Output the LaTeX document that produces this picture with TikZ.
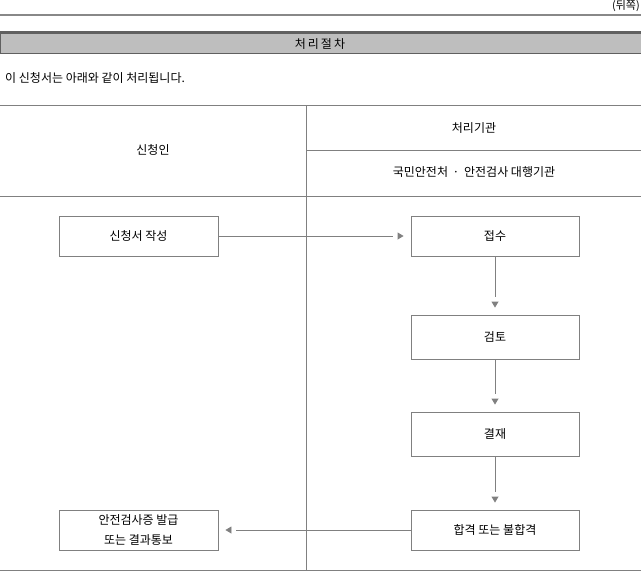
\documentclass[tikz,border=0pt]{standalone}
\usepackage{fontspec}
\setmainfont{Noto Sans CJK KR}
\usetikzlibrary{arrows.meta,decorations.markings}
\definecolor{rulegray}{HTML}{888888}
\definecolor{darkrule}{HTML}{606060}
\definecolor{bandfill}{HTML}{BEBEBE}
\definecolor{linegray}{HTML}{808080}
\begin{document}
\begin{tikzpicture}[x=1pt,y=-1pt,
  txt/.style={font=\fontsize{12}{14}\selectfont, inner sep=0pt},
  stepbox/.style={draw=linegray, line width=0.9pt, fill=white, minimum width=159pt, minimum height=40pt, align=center, inner sep=0pt, font=\fontsize{12}{20}\selectfont},
  rbox/.style={stepbox, minimum width=168pt},
  tall/.style={minimum height=44pt},
  conn/.style={draw=linegray, line width=0.9pt, shorten >=18pt,
    postaction={decorate, decoration={markings,
      mark=at position -7pt with {\arrow[linegray, line width=0.9pt]{Triangle[length=6pt,width=7pt]}}}}},
  grid/.style={draw=linegray, line width=0.9pt}
]
\useasboundingbox (0,0) rectangle (641,571);
\fill[white] (0,0) rectangle (641,571);
% header
\node[txt, anchor=east, font=\fontsize{11}{12}\selectfont] (back) at (640,6) {(뒤쪽)};
\draw[rulegray, line width=2.4pt] (0,15) -- (641,15);
\draw[darkrule, line width=2.4pt] (0,32.5) -- (641,32.5);
\fill[bandfill] (0,34) rectangle (641,53);
\draw[darkrule, line width=1pt] (0.5,34) -- (0.5,53.5);
\draw[darkrule, line width=1.2pt] (0,53.5) -- (641,53.5);
\node[txt] (title) at (320,44) {처\,리\,절\,차};
\node[txt, anchor=west] (intro) at (5,78) {이 신청서는 아래와 같이 처리됩니다.};
% table
\draw[grid] (0,105) -- (641,105);
\draw[grid] (306,150) -- (641,150);
\draw[grid] (0,196.5) -- (641,196.5);
\draw[grid] (0,570) -- (641,570);
\draw[grid] (306,105) -- (306,571);
\node[txt] (applicant) at (153,150) {신청인};
\node[txt] (agency) at (474,128) {처리기관};
\node[txt] (agencies) at (474,172) {국민안전처 \,·\, 안전검사 대행기관};
% boxes
\node[stepbox] (write) at (138.5,236) {신청서 작성};
\node[rbox] (receive) at (495,236) {접수};
\node[rbox, tall] (review) at (495,337) {검토};
\node[rbox, tall] (approve) at (495,434) {결재};
\node[rbox] (result) at (495,530) {합격 또는 불합격};
\node[stepbox] (issue) at (138.5,530) {안전검사증 발급\\또는 결과통보};
% connectors
\draw[conn] (write) -- (receive);
\draw[conn] (receive) -- (review);
\draw[conn] (review) -- (approve);
\draw[conn] (approve) -- (result);
\draw[conn] (result) -- (issue);
\end{tikzpicture}
\end{document}
